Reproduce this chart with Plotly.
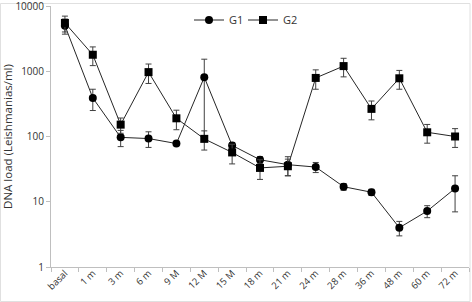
import plotly.graph_objects as go

categories = ["basal", "1 m", "3 m", "6 m", "9 M", "12 M", "15 M", "18 m", "21 m",
              "24 m", "28 m", "36 m", "48 m", "60 m", "72 m"]
g1_values = [5000, 390, 97, 93, 78, 810, 73, 44, 37, 34, 17, 14, 4.0, 7.2, 16]
g1_errors = [1300, 140, 27, 25, 4, 720, 8, 5, 12, 6, 2, 1.5, 1, 1.5, 9]
g2_values = [5500, 1790, 152, 970, 190, 92, 57, 33, 35, 790, 1200, 265, 780, 116, 100]
g2_errors = [1500, 570, 40, 320, 63, 30, 19, 11, 10, 260, 380, 85, 250, 37, 32]
y_tickvals = [1, 10, 100, 1000, 10000]
y_ticktext = ["1", "10", "100", "1000", "10000"]

FONT = "Open Sans, Liberation Sans, sans-serif"
LINE = "#262626"
ERR = "#404040"

fig = go.Figure()
fig.add_trace(go.Scatter(
    x=categories, y=g1_values, name="G1", mode="lines+markers",
    line=dict(color=LINE, width=1),
    marker=dict(symbol="circle", size=8, color="black"),
    error_y=dict(type="data", array=g1_errors, symmetric=True,
                 color=ERR, thickness=1, width=3),
    legend="legend", hoverinfo="skip",
))
fig.add_trace(go.Scatter(
    x=categories, y=g2_values, name="G2", mode="lines+markers",
    line=dict(color=LINE, width=1),
    marker=dict(symbol="square", size=8, color="black"),
    error_y=dict(type="data", array=g2_errors, symmetric=True,
                 color=ERR, thickness=1, width=3),
    legend="legend2", hoverinfo="skip",
))

W, H = 472, 302
L, R, T, B = 51, 3, 6, 35
pw, ph = W - L - R, H - T - B

def px_x(p):
    return (p - L) / pw

def px_y(p):
    return 1 - (p - T) / ph

legend_common = dict(orientation="h", xanchor="center", yanchor="middle",
                     y=px_y(20), font=dict(family=FONT, size=11, color="#333333"),
                     itemwidth=30, bgcolor="rgba(0,0,0,0)")

fig.update_layout(
    width=W, height=H,
    margin=dict(l=L, r=R, t=T, b=B, autoexpand=False),
    paper_bgcolor="white", plot_bgcolor="white",
    font=dict(family=FONT, size=10, color="#333333"),
    showlegend=True,
    legend=dict(x=px_x(219), **legend_common),
    legend2=dict(x=px_x(273), **legend_common),
    xaxis=dict(type="category", categoryorder="array", categoryarray=categories,
               range=[-0.5, len(categories) - 0.5], automargin=False,
               showline=True, linecolor="#bfbfbf", linewidth=1,
               ticks="outside", tickson="boundaries", ticklen=4, tickcolor="#bfbfbf",
               tickangle=-45, ticklabelstandoff=-4,
               tickfont=dict(family=FONT, size=9.5, color="#333333"),
               showgrid=False, zeroline=False, fixedrange=True),
    yaxis=dict(type="log", range=[0, 4.0], automargin=False,
               tickvals=y_tickvals, ticktext=y_ticktext,
               ticklabeloverflow="allow",
               showline=True, linecolor="#bfbfbf", linewidth=1,
               ticks="outside", ticklen=4, tickcolor="#bfbfbf",
               tickfont=dict(family=FONT, size=10, color="#333333"),
               showgrid=False, zeroline=False,
               title=dict(text="DNA load (Leishmanias/ml)",
                          font=dict(family=FONT, size=11.5, color="#333333"),
                          standoff=17),
               fixedrange=True),
    shapes=[dict(type="rect", xref="paper", yref="paper",
                 x0=px_x(0.5), x1=px_x(470), y0=px_y(301.5), y1=px_y(3.5),
                 line=dict(color="#e0e0e0", width=1), fillcolor="rgba(0,0,0,0)",
                 layer="below")],
)

fig.write_html("out.html",
               config={"displayModeBar": False},
               post_script="document.body.style.margin='0';document.body.style.overflow='hidden';")
